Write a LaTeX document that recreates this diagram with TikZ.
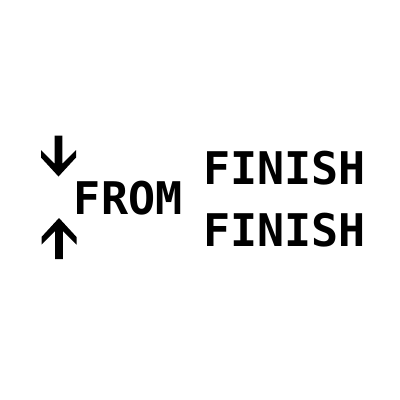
\documentclass[tikz,border=0pt]{standalone}
\usepackage{fontspec}
\newfontfamily\monob{DejaVu Sans Mono}[BoldFont={* Bold}]
\begin{document}
\begin{tikzpicture}[x=1pt,y=-1pt,
  txt/.style={inner sep=0pt,outer sep=0pt,anchor=base west,font=\monob\bfseries\fontsize{45}{45}\selectfont},
  bigarrow/.pic={\fill[black] (0,0) -- (-17.5,-19) -- (-17.5,-26.5) -- (-3.9,-12.9) -- (-3.9,-41) -- (3.9,-41) -- (3.9,-12.9) -- (17.5,-26.5) -- (17.5,-19) -- cycle;}]
\useasboundingbox[fill=white] (0,0) rectangle (400,400);
\coordinate (downtip) at (58.5,176.5);
\coordinate (uptip) at (59,218);
\pic at (downtip) {bigarrow};
\pic[rotate=180] at (uptip) {bigarrow};
\node[txt] (from) at (74,214) {FROM};
\node[txt] (f1) at (203,184) {FINISH};
\node[txt] (f2) at (203,246) {FINISH};
\end{tikzpicture}
\end{document}
